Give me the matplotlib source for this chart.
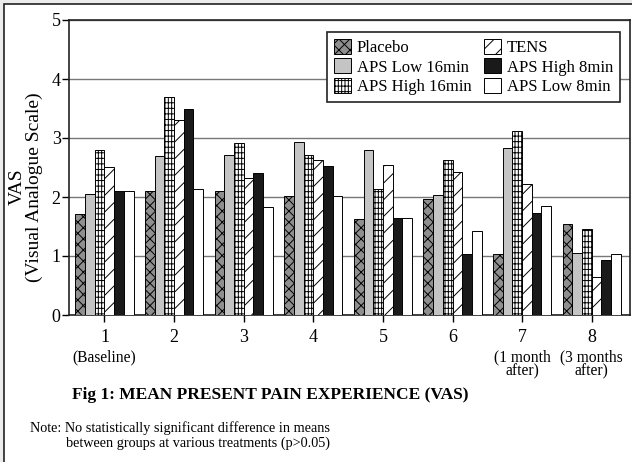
import matplotlib
matplotlib.use("Agg")
import matplotlib.pyplot as plt
import numpy as np
from matplotlib.patches import Rectangle

plt.rcParams['font.family'] = ['Liberation Serif', 'DejaVu Serif']
plt.rcParams['hatch.linewidth'] = 0.7

sessions = [1, 2, 3, 4, 5, 6, 7, 8]
session_labels = ["1", "2", "3", "4", "5", "6", "7", "8"]
session_notes = ["(Baseline)", "", "", "", "", "", "(1 month\nafter)", "(3 months\nafter)"]

groups = ["Placebo", "APS Low 16min", "APS High 16min", "TENS", "APS High 8min", "APS Low 8min"]
placebo = [1.72, 2.10, 2.10, 2.02, 1.62, 1.96, 1.03, 1.54]
aps_low16 = [2.05, 2.70, 2.72, 2.94, 2.79, 2.03, 2.83, 1.05]
aps_high16 = [2.80, 3.70, 2.92, 2.72, 2.14, 2.63, 3.12, 1.46]
tens = [2.51, 3.31, 2.32, 2.63, 2.54, 2.43, 2.22, 0.65]
aps_high8 = [2.11, 3.50, 2.41, 2.53, 1.64, 1.04, 1.73, 0.94]
aps_low8 = [2.10, 2.13, 1.83, 2.02, 1.64, 1.42, 1.84, 1.03]
series = [placebo, aps_low16, aps_high16, tens, aps_high8, aps_low8]

styles = [
    dict(facecolor='#8f8f8f', hatch='xxx'),
    dict(facecolor='#c4c4c4', hatch=None),
    dict(facecolor='white', hatch='|||||---'),
    dict(facecolor='white', hatch='//'),
    dict(facecolor='#1a1a1a', hatch=None),
    dict(facecolor='white', hatch=None),
]

W, H = 632, 462
fig = plt.figure(figsize=(W / 100, H / 100), dpi=100)
fig.patch.set_facecolor('#ececec')
fig.patches.append(Rectangle((4 / W, -0.1), 1.2, 1 - 4 / H + 0.1, transform=fig.transFigure,
                             facecolor='white', edgecolor='#222222', linewidth=1.2, zorder=-10))

ax = fig.add_axes([69 / W, 1 - 315 / H, 561 / W, 295 / H])
ax.set_zorder(1)
ax.set_facecolor('white')
x = np.array(sessions, dtype=float)
bw = 0.139
handles = []
for i, (vals, st) in enumerate(zip(series, styles)):
    b = ax.bar(x + (i - 2.5) * bw, vals, width=bw, facecolor=st['facecolor'],
               hatch=st['hatch'], edgecolor='black', linewidth=0.7, label=groups[i], zorder=3)
    handles.append(b)

ax.set_xlim(0.49, 8.55)
ax.set_ylim(0, 5)
ax.set_yticks([0, 1, 2, 3, 4, 5])
ax.set_yticklabels(['0', '1', '2', '3', '4', '5'], fontsize=13)
ax.set_xticks(x)
ax.set_xticklabels(session_labels, fontsize=13)
ax.tick_params(axis='both', direction='out', length=5, width=1, color='black', pad=1)
ax.tick_params(axis='x', pad=5)
ax.yaxis.grid(True, color='#777777', linewidth=1)
ax.set_axisbelow(True)
for s in ax.spines.values():
    s.set_linewidth(1.2)
    s.set_color('#222222')

for xi, note in zip(x, session_notes):
    if note:
        ax.annotate(note, xy=(xi, 0), xycoords=('data', 'axes fraction'),
                    xytext=(0, -24.5), textcoords='offset points', ha='center', va='top',
                    fontsize=11.2, linespacing=0.9)

fig.text(26 / W, 1 - 187 / H, "VAS\n(Visual Analogue Scale)", rotation=90, ha='center',
         va='center', fontsize=14, multialignment='center', linespacing=1.0)

leg = ax.legend(handles=handles, loc='upper right', bbox_to_anchor=(0.982, 0.959), ncol=2,
                fontsize=12, frameon=True, fancybox=False, framealpha=1, edgecolor='#222222',
                handlelength=1.0, handleheight=1.0, handletextpad=0.35, labelspacing=0.15,
                columnspacing=0.8, borderpad=0.4, borderaxespad=0)
leg.get_frame().set_linewidth(1.2)

fig.text(270 / W, 1 - 395 / H, "Fig 1: MEAN PRESENT PAIN EXPERIENCE (VAS)", ha='center',
         va='center', fontsize=12.5, fontweight='bold')
fig.text(30 / W, 1 - 428 / H, "Note: No statistically significant difference in means",
         ha='left', va='center', fontsize=10.3)
fig.text(66 / W, 1 - 443 / H, "between groups at various treatments (p>0.05)",
         ha='left', va='center', fontsize=10.3)

fig.savefig("out.png", dpi=100, facecolor=fig.get_facecolor())
